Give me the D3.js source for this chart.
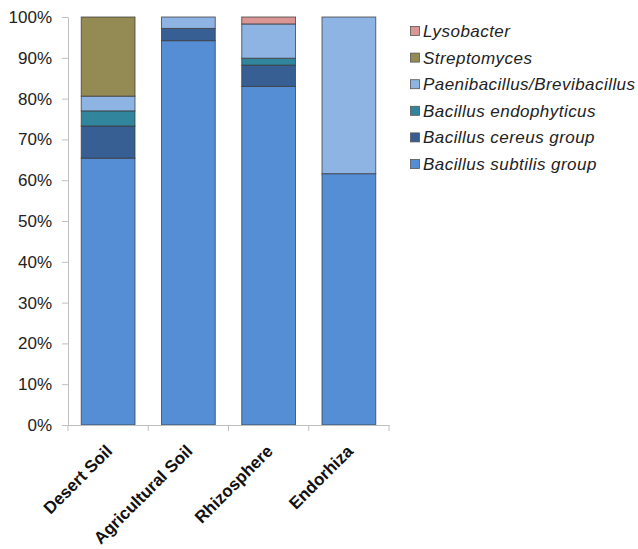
<!DOCTYPE html>
<html><head><meta charset="utf-8">
<script src="https://cdn.jsdelivr.net/npm/d3@7"></script>
<style>body{margin:0;background:#fff}svg{display:block}</style>
</head><body>
<svg id="c" width="638" height="549"></svg>
<script>
const categories = ["Desert Soil", "Agricultural Soil", "Rhizosphere", "Endorhiza"];
const seriesNames = ["Bacillus subtilis group", "Bacillus cereus group", "Bacillus endophyticus", "Paenibacillus/Brevibacillus", "Streptomyces", "Lysobacter"];
const subtilis     = [65.4, 94.2, 83.0, 61.6];
const cereus       = [7.9, 3.0, 5.2, 0];
const endophyticus = [3.7, 0, 1.7, 0];
const paeni        = [3.6, 2.8, 8.4, 38.4];
const streptomyces = [19.4, 0, 0, 0];
const lysobacter   = [0, 0, 1.7, 0];
const yTicks = [0, 10, 20, 30, 40, 50, 60, 70, 80, 90, 100];
const colors = ["#558ED5", "#375F93", "#31859C", "#8EB4E3", "#948A54", "#DA9694"];

const seriesValues = [subtilis, cereus, endophyticus, paeni, streptomyces, lysobacter];
const rows = categories.map((c, i) => {
  const r = {cat: c};
  seriesNames.forEach((s, j) => r[s] = seriesValues[j][i]);
  return r;
});
const stacked = d3.stack().keys(seriesNames)(rows);

const svg = d3.select("#c");
const mLeft = 68, mRight = 389, mTop = 17, mBottom = 425;
const x = d3.scaleBand().domain(categories).range([mLeft, mRight]).paddingInner(0.33).paddingOuter(0.165);
const y = d3.scaleLinear().domain([0, 100]).range([mBottom, mTop]);
const color = d3.scaleOrdinal().domain(seriesNames).range(colors);

// bars
svg.append("g").selectAll("g").data(stacked).join("g")
  .attr("fill", d => color(d.key))
  .selectAll("rect").data(d => d.filter(p => p[1] - p[0] > 0)).join("rect")
  .attr("x", d => x(d.data.cat))
  .attr("width", x.bandwidth())
  .attr("y", d => y(d[1]))
  .attr("height", d => y(d[0]) - y(d[1]))
  .attr("stroke", "#3a3a3a").attr("stroke-opacity", 0.75).attr("stroke-width", 1);

// y axis
const yAxis = svg.append("g").attr("transform", `translate(${mLeft},0)`)
  .call(d3.axisLeft(y).tickValues(yTicks).tickFormat(d => d + "%").tickSize(6).tickSizeOuter(0));
yAxis.select(".domain").attr("stroke", "#BFBFBF");
yAxis.selectAll(".tick line").attr("stroke", "#BFBFBF");
yAxis.selectAll(".tick text").attr("x", -16).attr("fill", "#222")
  .style("font", "17px 'Liberation Sans', Arial, sans-serif");

// x axis
const xAxis = svg.append("g").attr("transform", `translate(0,${mBottom})`)
  .call(d3.axisBottom(x).tickSize(0).tickSizeOuter(0));
xAxis.select(".domain").attr("stroke", "#BFBFBF");
xAxis.selectAll(".tick text").remove();
const bounds = [mLeft].concat(categories.map((c, i) => x(c) + x.bandwidth() + x.step() * x.paddingInner() / 2));
bounds[bounds.length - 1] = mRight;
xAxis.selectAll(".sep").data(bounds).join("line")
  .attr("x1", d => d).attr("x2", d => d).attr("y1", 0).attr("y2", 6).attr("stroke", "#BFBFBF");
xAxis.selectAll(".lab").data(categories).join("text")
  .attr("transform", d => `translate(${x(d) + x.bandwidth() / 2 + 1},${23}) rotate(-45)`)
  .attr("text-anchor", "end").attr("dy", "0.35em")
  .attr("fill", "#111")
  .style("font", "bold 17px 'Liberation Sans', Arial, sans-serif")
  .text(d => d);

// legend
const legendOrder = seriesNames.slice().reverse();
const lg = svg.append("g").attr("transform", "translate(410,31)");
const item = lg.selectAll("g").data(legendOrder).join("g")
  .attr("transform", (d, i) => `translate(0,${i * 26.6})`);
item.append("rect").attr("x", 0.5).attr("y", -4.5).attr("width", 9).attr("height", 9)
  .attr("fill", d => color(d)).attr("stroke", "#555").attr("stroke-width", 0.8);
item.append("text").attr("x", 13).attr("dy", "0.35em")
  .attr("fill", "#222")
  .style("font", "italic 17px 'Liberation Sans', Arial, sans-serif")
  .style("letter-spacing", "0.45px")
  .text(d => d);
</script>
</body></html>
